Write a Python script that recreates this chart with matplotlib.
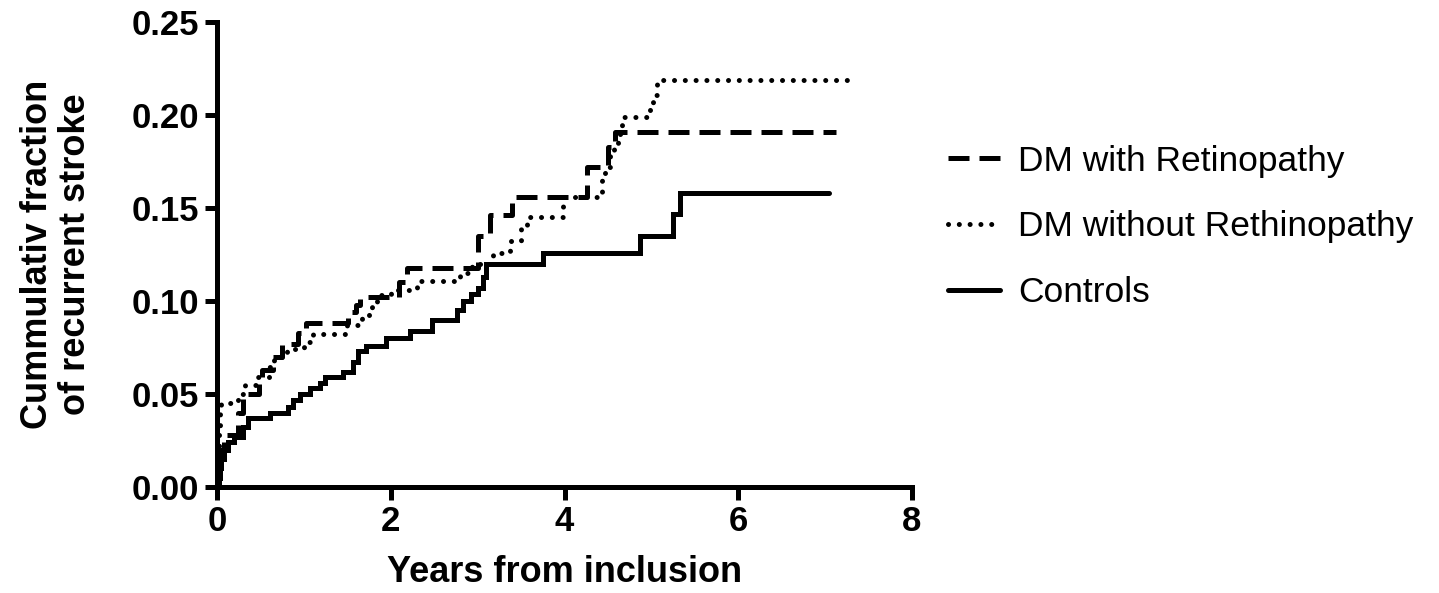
import matplotlib
matplotlib.use("Agg")
import matplotlib.pyplot as plt

plt.rcParams['font.family'] = ['Liberation Sans', 'DejaVu Sans']

# Controls (solid)
ctrl_t = [0, 0.01, 0.03, 0.05, 0.08, 0.13, 0.20, 0.30, 0.36, 0.61, 0.82, 0.88, 0.96, 1.07, 1.19, 1.24,
          1.45, 1.57, 1.62, 1.72, 1.95, 2.22, 2.48, 2.76, 2.83, 2.92, 3.00, 3.06, 3.10, 3.75, 4.87, 5.25,
          5.33, 7.04]
ctrl_y = [0, 0.005, 0.010, 0.015, 0.020, 0.024, 0.027, 0.032, 0.037, 0.040, 0.043, 0.047, 0.050, 0.053,
          0.056, 0.059, 0.062, 0.067, 0.073, 0.076, 0.080, 0.084, 0.090, 0.095, 0.100, 0.104, 0.107, 0.113,
          0.120, 0.126, 0.135, 0.147, 0.158, 0.158]

# DM with Retinopathy (dashed)
retino_t = [0, 0.02, 0.04, 0.08, 0.24, 0.30, 0.48, 0.52, 0.64, 0.75, 0.93, 1.03, 1.51, 1.60, 1.65, 2.10,
            2.19, 3.00, 3.14, 3.39, 4.26, 4.50, 4.58, 7.13]
retino_y = [0, 0.010, 0.020, 0.028, 0.040, 0.050, 0.056, 0.063, 0.070, 0.077, 0.083, 0.088, 0.094, 0.098,
            0.102, 0.110, 0.118, 0.135, 0.146, 0.156, 0.172, 0.183, 0.191, 0.191]

# DM without Rethinopathy (dotted)
noret_t = [0, 0.01, 0.02, 0.03, 0.05, 0.24, 0.32, 0.45, 0.60, 0.66, 0.80, 1.00, 1.10, 1.50, 1.67, 1.75,
           1.78, 1.84, 2.00, 2.30, 2.80, 2.93, 3.18, 3.37, 3.50, 3.57, 3.98, 4.43, 4.47, 4.52, 4.57, 4.62,
           4.66, 4.98, 5.02, 5.06, 7.25]
noret_y = [0, 0.020, 0.030, 0.040, 0.045, 0.050, 0.055, 0.059, 0.0645, 0.070, 0.074, 0.078, 0.082, 0.087,
           0.091, 0.094, 0.0995, 0.103, 0.106, 0.111, 0.115, 0.120, 0.126, 0.132, 0.140, 0.145, 0.156, 0.165,
           0.172, 0.178, 0.185, 0.190, 0.199, 0.205, 0.211, 0.219, 0.219]

labels = ["DM with Retinopathy", "DM without Rethinopathy", "Controls"]
x_ticks = [0, 2, 4, 6, 8]
y_ticks = [0.00, 0.05, 0.10, 0.15, 0.20, 0.25]

fig = plt.figure(figsize=(14.39, 5.93), dpi=100)
ax = fig.add_axes([217/1439, 1-487/593, (912-217)/1439, (487-22)/593])

lw = 3.6
l1, = ax.step(retino_t, retino_y, where='post', color='black', lw=lw,
              linestyle=(0, (4.2, 2.0)), dash_capstyle='butt', solid_joinstyle='miter')
l2, = ax.step(noret_t, noret_y, where='post', color='black', lw=lw,
              linestyle=(0, (0.01, 2.15)), dash_capstyle='round')
l3, = ax.step(ctrl_t, ctrl_y, where='post', color='black', lw=lw,
              linestyle='-', solid_capstyle='round', solid_joinstyle='miter')

ax.set_xlim(0, 8)
ax.set_ylim(0, 0.25)
ax.set_xticks(x_ticks)
ax.set_xticklabels([str(v) for v in x_ticks])
ax.set_yticks(y_ticks)
ax.set_yticklabels([f"{v:.2f}" for v in y_ticks])

for s in ['top', 'right']:
    ax.spines[s].set_visible(False)
for s in ['left', 'bottom']:
    ax.spines[s].set_linewidth(3.6)
ax.tick_params(axis='both', direction='out', length=9, width=3.6, labelsize=25, pad=4)
for lab in ax.get_xticklabels() + ax.get_yticklabels():
    lab.set_fontweight('bold')

ax.set_xlabel("Years from inclusion", fontsize=26, fontweight='bold', labelpad=12)
ax.set_ylabel("Cummulativ fraction\nof recurrent stroke", fontsize=26, fontweight='bold',
              labelpad=28, linespacing=1.1)

leg = fig.legend([l1, l2, l3], labels, loc='center left', bbox_to_anchor=(948/1439, 1-227/593),
                 frameon=False, fontsize=25.5, handlelength=1.47, handletextpad=0.5,
                 labelspacing=0.93, borderpad=0, borderaxespad=0)

fig.savefig("out.png", dpi=100)
